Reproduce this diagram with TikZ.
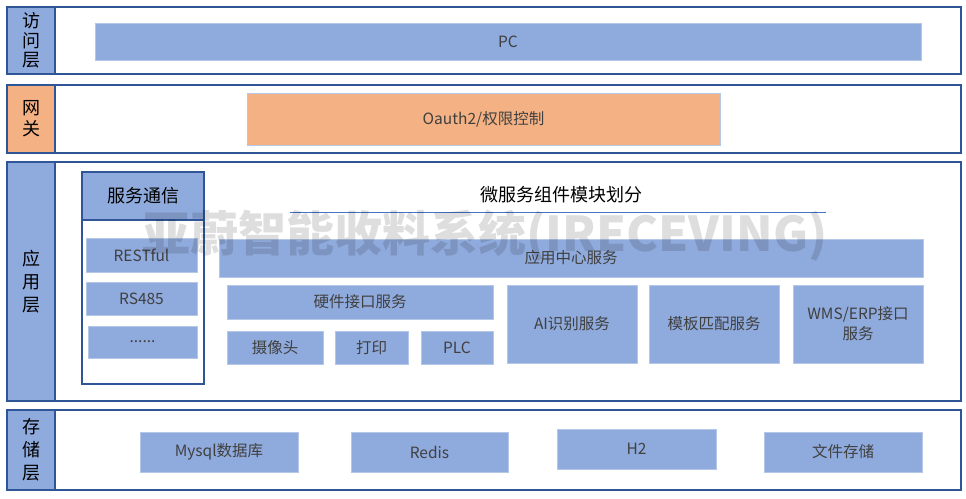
\documentclass[tikz,border=0pt]{standalone}
\usepackage{fontspec}
\setmainfont{Noto Sans CJK SC}
\usepackage{tikz}
\definecolor{blueA}{HTML}{8FAADC}
\definecolor{orangeA}{HTML}{F4B183}
\definecolor{darkB}{HTML}{2F5597}
\definecolor{lightB}{HTML}{B4C7E7}
\definecolor{lineB}{HTML}{4472C4}
\definecolor{txtG}{HTML}{404040}

\begin{document}
\begin{tikzpicture}
	[x=1pt, y=-1pt,
	layer/.style={rectangle, draw=darkB, line width=1.2pt, fill=white, inner sep=0pt},
	lab/.style={rectangle, draw=darkB, line width=1.2pt, inner sep=0pt, align=center, text=black,
		font=\fontsize{18}{22}\selectfont},
	blk/.style={rectangle, draw=lightB, line width=0.9pt, fill=blueA, inner sep=0pt, align=center,
		text=txtG, font=\fontsize{15.5}{20}\selectfont}]
	
	\useasboundingbox (0,0) rectangle (966,498);
	
	% access layer
	\node[layer, minimum width=954, minimum height=67] (acc) at (484,40.5) {};
	\node[lab, fill=blueA, minimum width=48, minimum height=67, font=\fontsize{18}{19.5}\selectfont] (accl) at (31,40.5) {访\\问\\层};
	\node[blk, minimum width=826, minimum height=37] (pc) at (508,41.5) {PC};
	
	% gateway
	\node[layer, minimum width=954, minimum height=68] (gw) at (484,119) {};
	\node[lab, fill=orangeA, minimum width=48, minimum height=68, font=\fontsize{18}{21}\selectfont] (gwl) at (31,119) {网\\关};
	\node[blk, fill=orangeA, minimum width=473, minimum height=52] (oauth) at (483.5,119) {Oauth2/权限控制};
	
	% application layer
	\node[layer, minimum width=954, minimum height=239] (app) at (484,281.5) {};
	\node[lab, fill=blueA, minimum width=48, minimum height=239, font=\fontsize{18}{23}\selectfont] (appl) at (31,281.5) {应\\用\\层};
	
	\node[layer, minimum width=122, minimum height=164] (combody) at (143,302) {};
	\node[lab, fill=blueA, minimum width=122, minimum height=48] (comhead) at (143,196) {服务通信};
	\node[blk, minimum width=111, minimum height=34] (rest) at (141.5,255) {RESTful};
	\node[blk, minimum width=111, minimum height=33] (rs) at (141.5,298.5) {RS485};
	\node[blk, minimum width=109, minimum height=32] (more) at (142.5,342) {......};
	
	\node[text=black, font=\fontsize{18}{22}\selectfont] (title) at (561,195) {微服务组件模块划分};
	\coordinate (ulL) at (290,212);
	\coordinate (ulR) at (826,212);
	\draw[lineB, line width=1pt] (ulL) -- (ulR);
	
	\node[blk, minimum width=704, minimum height=38] (center) at (571,258) {应用中心服务};
	\node[blk, minimum width=266, minimum height=34] (hw) at (360,302) {硬件接口服务};
	\node[blk, minimum width=96, minimum height=33] (cam) at (275,347.5) {摄像头};
	\node[blk, minimum width=73, minimum height=33] (prt) at (371.5,347.5) {打印};
	\node[blk, minimum width=72, minimum height=33] (plc) at (457,347.5) {PLC};
	\node[blk, minimum width=130, minimum height=78] (ai) at (572,324) {AI识别服务};
	\node[blk, minimum width=130, minimum height=78] (tpl) at (714,324) {模板匹配服务};
	\node[blk, minimum width=130, minimum height=78] (wms) at (858,324) {WMS/ERP接口\\服务};
	
	% storage layer
	\node[layer, minimum width=954, minimum height=80] (st) at (484,450) {};
	\node[lab, fill=blueA, minimum width=48, minimum height=80, font=\fontsize{18}{23}\selectfont] (stl) at (31,450) {存\\储\\层};
	\node[blk, minimum width=158, minimum height=40] (mysql) at (219,452) {Mysql数据库};
	\node[blk, minimum width=157, minimum height=40] (redis) at (429.5,452) {Redis};
	\node[blk, minimum width=159, minimum height=40] (h2) at (636.5,449) {H2};
	\node[blk, minimum width=158, minimum height=40] (file) at (843,452) {文件存储};
	
	% watermark
	\node[text=black, text opacity=0.13, font=\fontsize{48}{50}\selectfont\bfseries] (mark) at (485,236) {亚蔚智能收料系统(IRECEVING)};
\end{tikzpicture}
\end{document}
